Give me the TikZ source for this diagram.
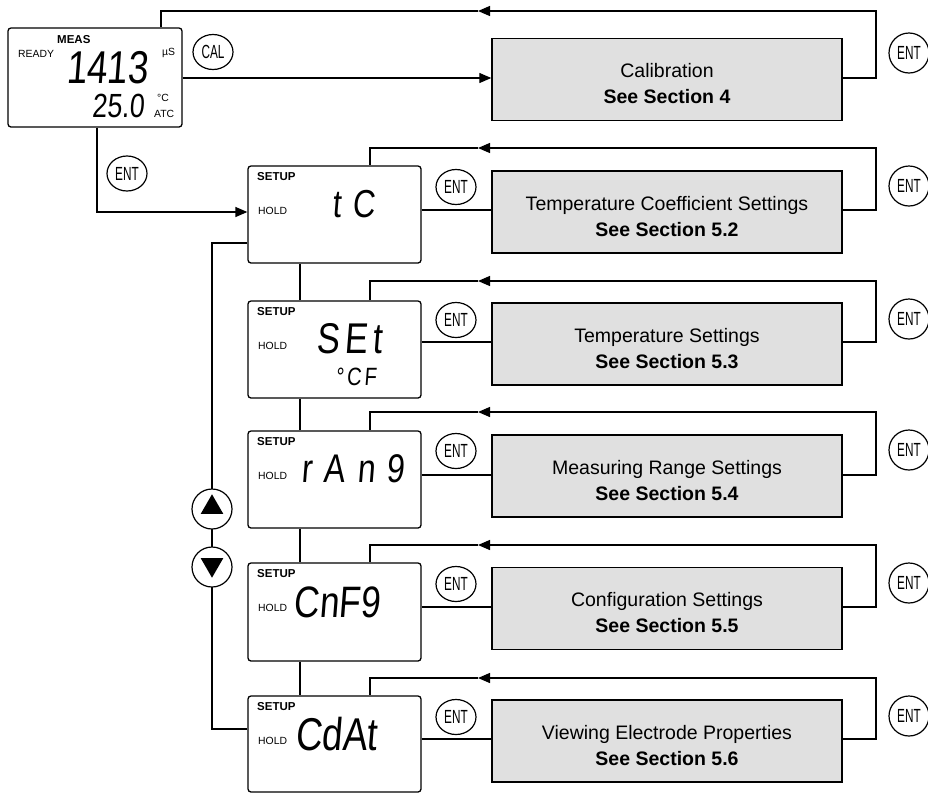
\documentclass[tikz,border=0pt]{standalone}
\usepackage{fontspec}
\setmainfont{Liberation Sans}
\newfontfamily\lcd[FakeStretch=0.8,FakeSlant=0.08]{Liberation Sans}
\newfontfamily\lcdw[FakeStretch=0.8,FakeSlant=0.08,LetterSpace=12]{Liberation Sans}
\newfontfamily\lcdww[FakeStretch=0.8,FakeSlant=0.08,LetterSpace=30]{Liberation Sans}
\newfontfamily\btnfont[FakeStretch=0.62]{Liberation Sans}
\usetikzlibrary{arrows.meta,shapes.geometric}
\definecolor{boxgray}{RGB}{224,224,224}
\begin{document}
\begin{tikzpicture}[x=1pt,y=-1pt,
 ln/.style={line width=1.3pt},
 arr/.style={ln,-{Triangle[length=12pt,width=10pt]}},
 lcdbox/.style={draw,line width=1.3pt,rounded corners=3pt,minimum width=173pt,minimum height=97pt,inner sep=0pt},
 graybox/.style={draw,line width=1.4pt,fill=boxgray,minimum width=350pt,minimum height=82pt,inner sep=0pt,align=center,font=\fontsize{19.5}{26}\selectfont,text height=48.6pt,text depth=0pt},
 btnoval/.style={draw,line width=1.2pt,ellipse,minimum width=40pt,minimum height=35pt,inner sep=0pt,fill=white,font=\btnfont\fontsize{19}{19}\selectfont},
 btnround/.style={draw,line width=1.2pt,circle,minimum size=40pt,inner sep=0pt,fill=white,font=\btnfont\fontsize{19}{19}\selectfont},
 lbl/.style={inner sep=0pt,anchor=base west,font=\fontsize{10.4}{12}\selectfont},
 lblb/.style={inner sep=0pt,anchor=base west,font=\bfseries\fontsize{11.5}{13}\selectfont},
 lcdtxt/.style={inner sep=0pt,anchor=base},
 tri/.style={regular polygon,regular polygon sides=3,minimum size=26pt,inner sep=0pt,fill=black}
]
\useasboundingbox (0,0) rectangle (928,793);

% ---------- measurement display ----------
\node[lcdbox,minimum width=174pt,minimum height=99pt] (meas) at (95,77.5) {};
\node[lblb] (measT) at (57,43) {MEAS};
\node[lbl] (ready) at (18,57) {READY};
\node[lbl] (uS) at (162,55) {µS};
\node[lbl] (degC) at (157,101) {°C};
\node[lbl] (atc) at (154,117) {ATC};
\node[lcdtxt,font=\lcd\fontsize{46}{46}\selectfont] (v1413) at (107,83) {1413};
\node[lcdtxt,font=\lcd\fontsize{33.5}{34}\selectfont] (v250) at (118,117) {25.0};

% ---------- calibration ----------
\node[graybox] (g0) at (667,79.5) {Calibration\\\textbf{See Section 4}};
\node[btnoval] (cal) at (213,52) {CAL};
\node[btnround] (e0) at (909,53) {ENT};
\coordinate (y78) at (0,78);
\coordinate (r0a) at (876,78);
\coordinate (r0b) at (876,11);
\coordinate (a0) at (478,11);
\coordinate (m0) at (161,11);
\draw[arr] (meas.east |- y78) -- (g0.west |- y78);
\draw[arr] (g0.east |- y78) -- (r0a) -- (r0b) -- (a0);
\draw[ln] (a0) -- (m0) -- (m0 |- meas.north);

% ---------- setup rows ----------
\foreach \ii/\tp/\hh/\gy/\ly/\cy/\txt in {
1/166/97/171/148/210/{Temperature Coefficient Settings\\\textbf{See Section 5.2}},
2/301/97/303/281/342/{Temperature Settings\\\textbf{See Section 5.3}},
3/431/97/435/412/475/{Measuring Range Settings\\\textbf{See Section 5.4}},
4/563/98/567.5/545/607/{Configuration Settings\\\textbf{See Section 5.5}},
5/696/96/700/678/739/{Viewing Electrode Properties\\\textbf{See Section 5.6}}}
{
 \node[lcdbox,minimum height=\hh pt] (s\ii) at (334.5,\tp+\hh/2) {};
 \node[lblb] (su\ii) at (257,\tp+14) {SETUP};
 \node[lbl] (ho\ii) at (258,\tp+48) {HOLD};
 \node[graybox] (g\ii) at (667,\gy+41) {\txt};
 \node[btnoval] (em\ii) at (456,\ly+39) {ENT};
 \node[btnround] (er\ii) at (909,\ly+38) {ENT};
 \coordinate (c\ii) at (0,\cy);
 \coordinate (ra\ii) at (876,\cy);
 \coordinate (rb\ii) at (876,\ly);
 \coordinate (a\ii) at (478,\ly);
 \coordinate (m\ii) at (370,\ly);
 \draw[ln] (s\ii.east |- c\ii) -- (g\ii.west |- c\ii);
 \draw[arr] (g\ii.east |- c\ii) -- (ra\ii) -- (rb\ii) -- (a\ii);
 \draw[ln] (a\ii) -- (m\ii) -- (m\ii |- s\ii.north);
}

% LCD readings
\node[lcdtxt,font=\lcdww\fontsize{39}{39}\selectfont] (d1) at (354,217) {tC};
\node[lcdtxt,font=\lcdw\fontsize{43}{43}\selectfont] (d2) at (349,353) {SEt};
\node[lcdtxt,font=\lcdw\fontsize{25}{25}\selectfont] (d2b) at (356,385) {°CF};
\node[lcdtxt,font=\lcdww\fontsize{40}{40}\selectfont] (d3) at (353,482) {rAn9};
\node[lcdtxt,font=\lcd\fontsize{44}{44}\selectfont] (d4) at (337,617) {CnF9};
\node[lcdtxt,font=\lcd\fontsize{46}{46}\selectfont] (d5) at (336,750) {CdAt};

% ENT from measurement to first setup
\node[btnoval] (e00) at (127,173.5) {ENT};
\coordinate (x97) at (97,212);
\draw[arr] (x97 |- meas.south) -- (x97) -- (s1.west |- x97);

% vertical links between setup screens
\coordinate (vx) at (300,0);
\foreach \a/\b in {1/2,2/3,3/4,4/5}
  \draw[ln] (vx |- s\a.south) -- (vx |- s\b.north);

% up/down loop
\coordinate (lp1) at (212,243);
\coordinate (lp2) at (212,729);
\draw[ln] (s1.west |- lp1) -- (lp1) -- (lp2) -- (s5.west |- lp2);
\node[btnround] (up) at (212,509) {};
\node[btnround] (dn) at (212,567) {};
\node[tri] (upT) at (212,507.3) {};
\node[tri,shape border rotate=180] (dnT) at (212,564.7) {};
\end{tikzpicture}
\end{document}
